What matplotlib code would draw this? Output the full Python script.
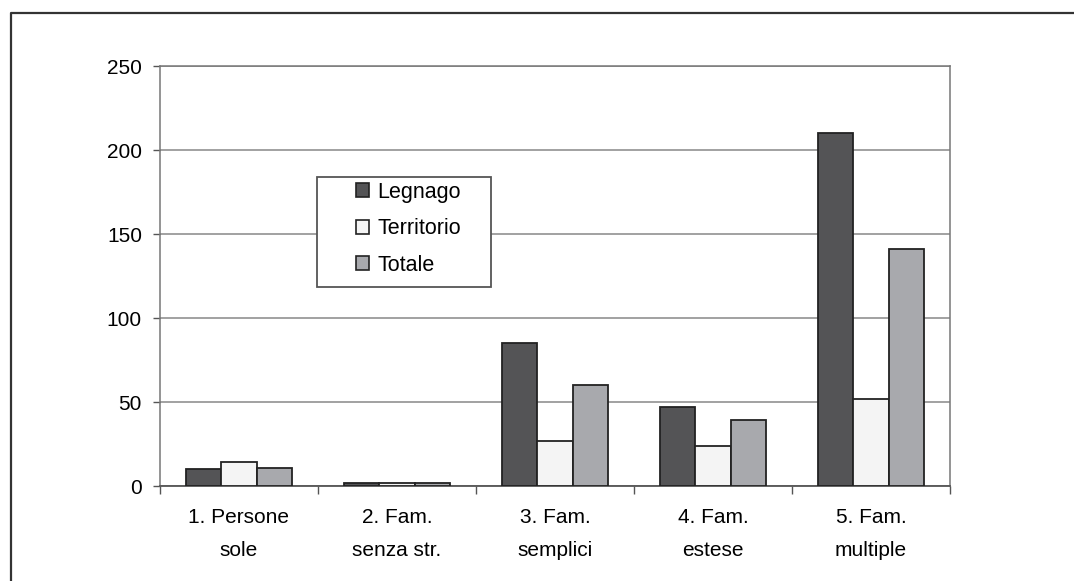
import matplotlib
matplotlib.use("Agg")
import matplotlib.pyplot as plt
import numpy as np
from matplotlib.patches import Rectangle
from matplotlib.lines import Line2D

plt.rcParams["font.family"] = ["Liberation Sans", "DejaVu Sans"]

categories = ["1. Persone\nsole", "2. Fam.\nsenza str.", "3. Fam.\nsemplici",
              "4. Fam.\nestese", "5. Fam.\nmultiple"]
legnago = [10, 2, 85, 47, 210]
territorio = [14, 1.5, 27, 24, 52]
totale = [11, 2, 60, 39, 141]

series = [("Legnago", legnago, "#545456"),
          ("Territorio", territorio, "#f4f4f4"),
          ("Totale", totale, "#a8a9ad")]

fig = plt.figure(figsize=(10.74, 5.81), dpi=100)
ax = fig.add_axes([160 / 1074, 1 - 486 / 581, 790 / 1074, 420 / 581])

x = np.arange(len(categories))
w = 0.224
for i, (name, vals, col) in enumerate(series):
    ax.bar(x + (i - 1) * w, vals, w, color=col, edgecolor="#222222",
           linewidth=1.3, label=name, zorder=3)

ax.set_xlim(-0.5, len(categories) - 0.5)
ax.set_ylim(0, 250)
ax.set_yticks([0, 50, 100, 150, 200, 250])
ax.yaxis.grid(True, color="#888888", linewidth=1.1, zorder=0)

# category labels centred, ticks on the boundaries
ax.set_xticks(x)
ax.set_xticklabels(categories, fontsize=15, linespacing=1.9)
ax.set_xticks(np.arange(-0.5, len(categories)), minor=True)
ax.tick_params(axis="x", which="major", length=0, pad=16)
ax.tick_params(axis="x", which="minor", length=6, width=1, color="#555555")
ax.tick_params(axis="y", length=5, width=1, color="#555555", pad=8, labelsize=15)

for s in ["top", "right", "left"]:
    ax.spines[s].set_color("#777777")
    ax.spines[s].set_linewidth(1.1)
ax.spines["bottom"].set_color("#555555")
ax.spines["bottom"].set_linewidth(1.3)

# legend with its own box
ax.add_patch(Rectangle((317 / 1074, 1 - 287 / 581), 174 / 1074, 110 / 581,
                       transform=fig.transFigure, facecolor="white",
                       edgecolor="#555555", linewidth=1.3, zorder=4,
                       clip_on=False))
leg = ax.legend(loc="upper left", bbox_to_anchor=(345 / 1074, 1 - 171 / 581),
                bbox_transform=fig.transFigure, frameon=False, fontsize=15.5,
                handlelength=0.6, handleheight=0.6, handletextpad=0.4,
                labelspacing=0.72, borderpad=0.0)
leg.set_zorder(5)
for h in leg.legend_handles:
    h.set_linewidth(1.2)

# outer frame (left and top only)
fig.lines.append(Line2D([11 / 1074, 11 / 1074, 1], [0, 1 - 13 / 581, 1 - 13 / 581],
                        transform=fig.transFigure, color="#333333", linewidth=1.6))

fig.savefig("out.png", dpi=100)
